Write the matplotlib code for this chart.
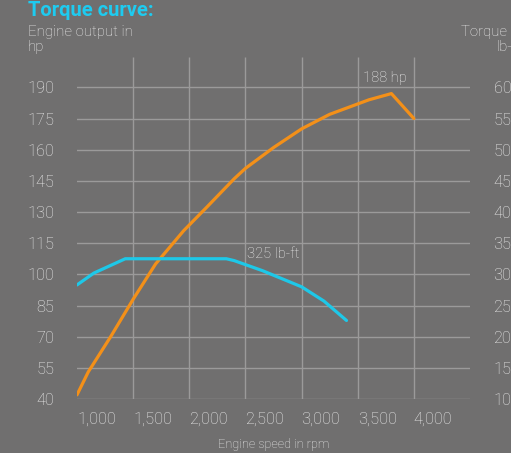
import matplotlib
matplotlib.use('Agg')
import matplotlib.pyplot as plt

# data
rpm_hp = [1000, 1100, 1300, 1500, 1700, 1950, 2150, 2400, 2500, 2750, 3000, 3250, 3500, 3600, 3800, 4000]
hp = [42, 53, 70, 88, 105, 121, 132, 146, 151, 161, 170, 177, 182, 184, 187, 175]

rpm_tq = [1000, 1150, 1430, 2330, 2400, 2650, 3000, 3200, 3400]
torque = [283, 302, 325, 325, 322, 306, 280, 257, 226]

x_ticks = [1000, 1500, 2000, 2500, 3000, 3500, 4000]
x_labels = ['1,000', '1,500', '2,000', '2,500', '3,000', '3,500', '4,000']
hp_ticks = [40, 55, 70, 85, 100, 115, 130, 145, 160, 175, 190]
tq_ticks = [100, 150, 200, 250, 300, 350, 400, 450, 500, 550, 600]

bg = '#706f6f'
grid_c = '#9b9a9a'
text_c = '#ececec'
orange = '#f39019'
cyan = '#1ec8e8'
plt.rcParams['font.family'] = ['Roboto', 'DejaVu Sans']
plt.rcParams['font.weight'] = 'light'

fig = plt.figure(figsize=(5.11, 4.53), dpi=100, facecolor=bg)
ax = fig.add_axes([77 / 511, (453 - 399) / 453, (470 - 77) / 511, (399 - 57) / 453])
ax.set_facecolor(bg)
ax.set_xlim(1000, 4500)
ax.set_ylim(40, 204.6)

for s in ax.spines.values():
    s.set_visible(False)

# grid: horizontal lines at the hp ticks, vertical lines at the rpm ticks
for v in hp_ticks:
    ax.axhline(v, color=grid_c, lw=1, zorder=1)
ax.vlines(x_ticks[1:], 40, 204.6, color=grid_c, lw=1, zorder=1)

ax.plot(rpm_hp, hp, color=orange, lw=2.3, zorder=3, solid_capstyle='round')

ax2 = ax.twinx()
ax2.set_ylim(100, 100 + (204.6 - 40) / 150 * 500)
ax2.plot(rpm_tq, torque, color=cyan, lw=2.3, zorder=3, solid_capstyle='round')
for s in ax2.spines.values():
    s.set_visible(False)

ax.set_yticks(hp_ticks)
ax.set_yticklabels([str(v) for v in hp_ticks])
ax.set_xticks(x_ticks)
ax.set_xticklabels(x_labels, ha='left')
ax.tick_params(axis='both', length=0, colors=text_c, labelsize=11.8)
ax.tick_params(axis='y', pad=16.5)
ax.tick_params(axis='x', pad=9)
ax2.set_yticks(tq_ticks)
ax2.set_yticklabels([str(v) for v in tq_ticks])
ax2.tick_params(axis='y', length=0, colors=text_c, labelsize=11.8, pad=17)

ax.set_xlabel('Engine speed in rpm', color=text_c, fontsize=9.2, fontweight='light', labelpad=8)

ax.text(3745, 192.5, '188 hp', color=text_c, fontsize=10.5, ha='center', va='baseline')
ax2.text(2512, 327, '325 lb-ft', color=text_c, fontsize=10.5, ha='left', va='baseline')

fig.text(28 / 511, 1 - 0.5 / 453, 'Torque curve:', color='#1ecbf0', fontsize=14.5,
         fontweight='bold', ha='left', va='top')
fig.text(28 / 511, 1 - 25 / 453, 'Engine output in\nhp', color=text_c, fontsize=10.8,
         ha='left', va='top', linespacing=1.1)
fig.text(522 / 511, 1 - 25 / 453, 'Torque in\nlb-ft', color=text_c, fontsize=10.8,
         ha='right', va='top', linespacing=1.1, multialignment='right')

fig.savefig('out.png', dpi=100, facecolor=bg)
